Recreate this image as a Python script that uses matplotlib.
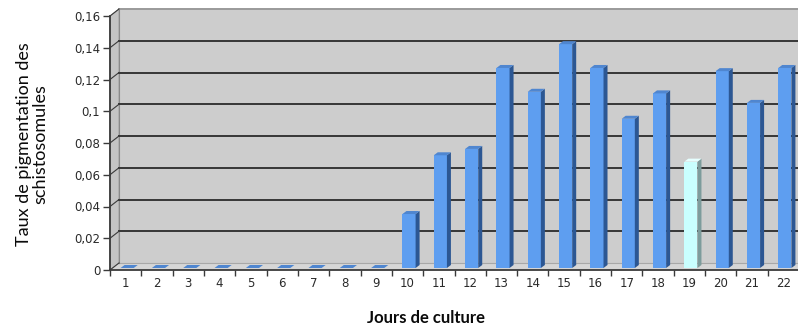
import matplotlib
matplotlib.use("Agg")
import matplotlib.pyplot as plt
from matplotlib.patches import Polygon

# ---- data ----
days = list(range(1, 23))
values = [0, 0, 0, 0, 0, 0, 0, 0, 0,
          0.034, 0.071, 0.075, 0.126, 0.111, 0.141, 0.126,
          0.094, 0.110, 0.067, 0.124, 0.104, 0.126]
highlight_day = 19
yticks = [0, 0.02, 0.04, 0.06, 0.08, 0.1, 0.12, 0.14, 0.16]
ytick_labels = ["0", "0,02", "0,04", "0,06", "0,08", "0,1", "0,12", "0,14", "0,16"]
xlabel = "Jours de culture"
ylabel = "Taux de pigmentation des\nschistosomules"

# ---- figure ----
DPI = 100
fig = plt.figure(figsize=(7.98, 3.27), dpi=DPI)
fig.patch.set_facecolor("white")
ax = fig.add_axes([110 / 798, 57 / 327, 689 / 798, 254 / 327])
ax.set_xlim(0.5, 22.5)
ax.set_ylim(0, 0.16)
ax.set_facecolor("none")
for s in ax.spines.values():
    s.set_visible(False)

# pixel -> data conversion
p0 = ax.transData.transform((0, 0))
p1 = ax.transData.transform((1, 1))
sx = p1[0] - p0[0]
sy = p1[1] - p0[1]
def dx(px):
    return px / sx
def dy(px):
    return px / sy

wall_c = "#cdcdcd"
floor_c = "#d6d6d6"
grid_c = "#363636"
axis_c = "#3a3a3a"

X0, X1 = 0.5, 23.5
Y0, Y1 = 0.0, 0.16
BX, BY = dx(9), dy(7)

# back wall
ax.add_patch(Polygon([(X0 + BX, Y0 + BY), (X1 + BX, Y0 + BY), (X1 + BX, Y1 + BY), (X0 + BX, Y1 + BY)],
                     closed=True, facecolor=wall_c, edgecolor="none", clip_on=False, zorder=0))
# left wall
ax.add_patch(Polygon([(X0, Y0), (X0 + BX, Y0 + BY), (X0 + BX, Y1 + BY), (X0, Y1)],
                     closed=True, facecolor="#c4c4c4", edgecolor="#9a9a9a", lw=0.6, clip_on=False, zorder=0.5))
# floor
ax.add_patch(Polygon([(X0, Y0), (X1, Y0), (X1 + BX, Y0 + BY), (X0 + BX, Y0 + BY)],
                     closed=True, facecolor=floor_c, edgecolor="none", clip_on=False, zorder=0.5))
ax.plot([X0 + BX, X1 + BX], [Y0 + BY, Y0 + BY], color="#a8a8a8", lw=0.8, clip_on=False, zorder=0.6)
ax.plot([X0 + BX, X0 + BX], [Y0 + BY, Y1 + BY], color="#8a8a8a", lw=0.8, clip_on=False, zorder=0.6)
# gridlines on back wall and diagonals on left wall
for yv in yticks[1:]:
    lc = grid_c if yv < 0.159 else "#9a9a9a"
    ax.plot([X0 + BX, X1 + BX], [yv + BY, yv + BY], color=lc, lw=1.4, clip_on=False, zorder=0.7)
for yv in yticks:
    ax.plot([X0, X0 + BX], [yv, yv + BY], color=axis_c, lw=0.8, clip_on=False, zorder=0.8)

# bars (3D-like)
bw = 0.42
FX, FY = dx(1.5), dy(2)       # front face shift
SX, SY = dx(4), dy(3)         # bar depth
for d, v in zip(days, values):
    if d == highlight_day:
        front, side, top = "#c9ffff", "#7d9c9c", "#e6ffff"
    else:
        front, side, top = "#5e9ef0", "#2c5793", "#4f86d0"
    xl = d - bw / 2 + FX
    xr = d + bw / 2 + FX
    yb = 0 + FY
    yt = v + FY
    if v > 0:
        ax.bar(d, v, width=bw, bottom=0, color=front, edgecolor="none", zorder=3,
               transform=ax.transData)
        ax.patches[-1].set_xy((xl, yb))
        # side face
        ax.add_patch(Polygon([(xr, yb), (xr + SX, yb + SY), (xr + SX, yt + SY), (xr, yt)],
                             closed=True, facecolor=side, edgecolor="none", zorder=3))
    # top face
    ax.add_patch(Polygon([(xl, yt), (xr, yt), (xr + SX, yt + SY), (xl + SX, yt + SY)],
                         closed=True, facecolor=top, edgecolor="none", zorder=3.1))

# front axes lines
ax.plot([X0, X0], [Y0, Y1], color=axis_c, lw=1.3, clip_on=False, zorder=5)
ax.plot([X0, X1], [Y0, Y0], color=axis_c, lw=1.3, clip_on=False, zorder=5)

# ticks
ax.set_yticks(yticks)
ax.set_yticklabels(ytick_labels)
ax.set_xticks(days)
ax.set_xticklabels([str(d) for d in days])
ax.set_xticks([d + 0.5 for d in [0] + days], minor=True)
ax.tick_params(axis="y", which="major", direction="out", length=5, width=1.0, color=axis_c,
               pad=2, labelsize=8.5, labelcolor="#2a2a2a")
ax.tick_params(axis="x", which="major", length=0, pad=5, labelsize=8.5, labelcolor="#2a2a2a")
ax.tick_params(axis="x", which="minor", direction="out", length=4, width=1.0, color=axis_c)
for lab in ax.get_xticklabels() + ax.get_yticklabels():
    lab.set_family("DejaVu Sans")

# labels
fig.text(426 / 798, 1 - 318 / 327, xlabel, ha="center", va="center",
         fontsize=12, fontweight="bold", family="Lato", color="#0a0a0a")
fig.text(32 / 798, 1 - 144 / 327, ylabel, ha="center", va="center", rotation=90,
         fontsize=13, family="Lato", color="#0a0a0a", linespacing=1.05, multialignment="center")

fig.savefig("out.png", dpi=DPI, facecolor="white")
